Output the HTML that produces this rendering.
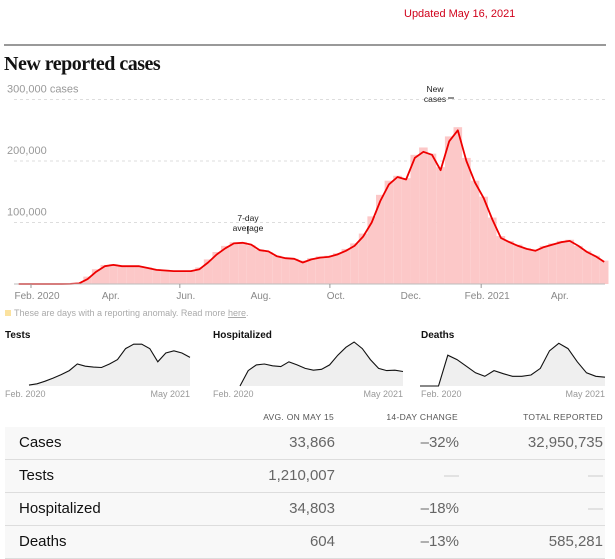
<!DOCTYPE html>
<html><head><meta charset="utf-8"><style>
body{margin:0;width:615px;height:557px;background:#fff;font-family:"Liberation Sans",sans-serif;position:relative;overflow:hidden}
.a{position:absolute;white-space:nowrap}
</style></head><body>
<div class="a" style="left:404px;top:8px;font-size:11px;color:#d0021b">Updated May 16, 2021</div>
<div class="a" style="left:4px;top:44px;width:602px;height:2px;background:#999"></div>
<div class="a" style="left:4px;top:53px;font:bold 20px 'Liberation Serif',serif;color:#121212;letter-spacing:-0.5px">New reported cases</div>
<svg class="a" style="left:0;top:80px" width="615" height="230" id="main"></svg>
<div class="a" style="left:5px;top:308px;font-size:9px;color:#aaa"><span style="display:inline-block;width:6px;height:6px;background:#fbe29f;margin-right:3px"></span>These are days with a reporting anomaly. Read more <span style="text-decoration:underline">here</span>.</div>
<svg class="a" style="left:0;top:320px" width="615" height="82" id="small"></svg>
<div class="a" style="left:0;top:420px;width:615px;height:137px">
<div class="a" style="right:281px;top:-8px;font-size:8.5px;color:#555;letter-spacing:0.3px">AVG. ON MAY 15</div>
<div class="a" style="right:157px;top:-8px;font-size:8.5px;color:#555;letter-spacing:0.3px">14-DAY CHANGE</div>
<div class="a" style="right:12px;top:-8px;font-size:8.5px;color:#555;letter-spacing:0.3px">TOTAL REPORTED</div>
<div id="rows"></div>
</div>
<script>
const start=new Date(2020,0,20);
const weekAvg=[0,0,0,0,0,0,0.1,1,8,20,29,31,29,29,29,26,23,22,21,21,21,24,35,48,58,66,67,64,55,53,45,42,41,35,40,43,44,48,54,62,77,100,135,162,174,170,205,215,210,185,232,250,200,165,140,105,75,68,62,57,54,60,64,68,70,62,52,45,36];
const weekReported=[0,0,0,0,0,0,0.2,2,12,24,31,32,30,30,29,27,24,23,22,22,22,27,40,52,62,68,68,63,56,52,46,43,41,38,42,45,46,50,57,66,82,110,145,168,176,172,210,222,212,190,240,255,205,168,142,108,78,70,64,58,56,62,66,70,72,62,54,46,38];
const yTicks=[100000,200000,300000];
const xTicks=[["Feb. 2020",2020,1],["Apr.",2020,3],["Jun.",2020,5],["Aug.",2020,7],["Oct.",2020,9],["Dec.",2020,11],["Feb. 2021",2021,1],["Apr.",2021,3]];
const testsData=[2,5,11,18,26,35,50,45,43,42,50,60,85,95,95,85,55,75,80,75,65];
const hospData=[0,35,48,50,46,44,55,48,40,36,38,48,70,88,100,85,60,40,35,36,33];
const deathsData=[0,0,0,70,60,45,30,22,35,28,22,22,25,40,80,97,85,55,30,22,20];
const rowsData=[["Cases","33,866","–32%","32,950,735"],["Tests","1,210,007","—","—"],["Hospitalized","34,803","–18%","—"],["Deaths","604","–13%","585,281"]];
const NS="http://www.w3.org/2000/svg";
function mk(p,t,a){const e=document.createElementNS(NS,t);for(const k in a)e.setAttribute(k,a[k]);p.appendChild(e);return e;}
const svg=document.getElementById('main');
const day0=new Date(2020,1,1);
const PX=1.23;
function xd(d){return 31+PX*(d-day0)/864e5;}
function xw(i){return xd(new Date(start.getTime()+(i*7+2)*864e5));}
function y(v){return 204-v*0.000615;}
function yk(k){return y(k*1000);}
yTicks.forEach((t,i)=>{const l=mk(svg,'line',{x1:14,x2:605,y1:y(t),y2:y(t),stroke:'#ddd','stroke-dasharray':'3,3'});


const tx=mk(svg,'text',{x:7,y:y(t)-7,'font-size':11,fill:'#999'});tx.textContent=t.toLocaleString('en-US')+(i==2?' cases':'');

});
weekReported.forEach((v,i)=>{const b=mk(svg,'rect',{x:xw(i)-4.3,y:yk(v),width:8.6,height:204-yk(v),fill:'#fcc8c8'});

});
let d='';weekAvg.forEach((v,i)=>{d+=(i?'L':'M')+xw(i).toFixed(1)+','+yk(v).toFixed(1);});
const ln=mk(svg,'path',{d:d,fill:'none',stroke:'#e00','stroke-width':1.8,'stroke-linejoin':'round'});


mk(svg,'line',{x1:14,x2:605,y1:204,y2:204,stroke:'#bbb'});
xTicks.forEach(t=>{const x=xd(new Date(t[1],t[2],1));if(t[2]%4==1)mk(svg,'line',{x1:x,x2:x,y1:204,y2:208,stroke:'#999'});
const tx=mk(svg,'text',{x:x+6,y:219,'font-size':10,fill:'#888','text-anchor':'middle'});tx.textContent=t[0];

});
function ann(txt,x,yy){txt.forEach((s,i)=>{const t=mk(svg,'text',{x:x,y:yy+i*10,'font-size':8.5,'text-anchor':'middle',fill:'#222'});t.textContent=s;});}
ann(['7-day','average'],248,141);mk(svg,'line',{x1:248,x2:248,y1:146,y2:154,stroke:'#222'});
ann(['New','cases'],435,12);mk(svg,'line',{x1:448,x2:454,y1:18,y2:18,stroke:'#222'});
const sm=document.getElementById('small');
function panel(x0,L,R,name,label,data,max){const t=mk(sm,'text',{x:x0,y:18,'font-size':10,'font-weight':'bold',fill:'#111'});t.textContent=label;


const B=66,H=44;const n=data.length;let p='';
data.forEach((v,i)=>{p+=(i?'L':'M')+(L+(R-L)*i/(n-1)).toFixed(1)+','+(B-v/max*H).toFixed(1);});
const a=mk(sm,'path',{d:p+'L'+R+','+B+'L'+L+','+B+'Z',fill:'#efefef'});
const l=mk(sm,'path',{d:p,fill:'none',stroke:'#111','stroke-width':1.1});


const a1=mk(sm,'text',{x:x0,y:77,'font-size':9,fill:'#999'});a1.textContent='Feb. 2020';
const a2=mk(sm,'text',{x:R,y:77,'font-size':9,fill:'#999','text-anchor':'end'});a2.textContent='May 2021';}
panel(5,29,190,'tests','Tests',testsData,100);
panel(213,240,403,'hospitalized','Hospitalized',hospData,100);
panel(421,420,605,'deaths','Deaths',deathsData,100);
const rc=document.getElementById('rows');
rowsData.forEach((r,i)=>{const row=document.createElement('div');row.className='a';


row.style.cssText=`left:5px;top:${7+i*33}px;width:600px;height:32px;background:#f8f8f8;border-bottom:1px solid #ddd`;
const cells=[[r[0],'left:14px','#111'],[r[1],'right:270px','#666'],[r[2],'right:146px','#666'],[r[3],'right:2px','#666']];
cells.forEach(c=>{const s=document.createElement('div');s.className='a';s.textContent=c[0];
s.style.cssText=`${c[1]};top:7px;font-size:15px;color:${(c[0]=='—')?'#ccc':c[2]}`;


row.appendChild(s);});rc.appendChild(row);});
</script>
</body></html>
